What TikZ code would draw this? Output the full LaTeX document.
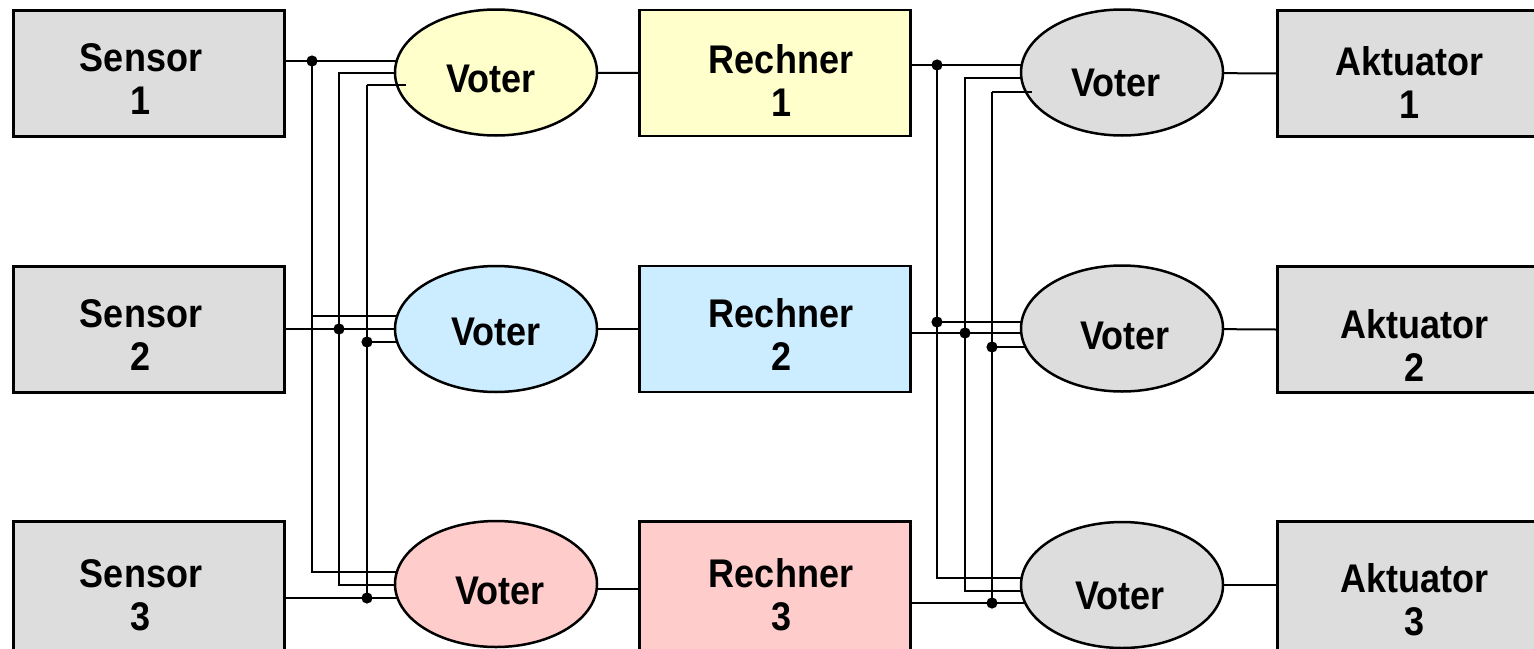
\documentclass[tikz,border=0pt]{standalone}
\usepackage{fontspec}
\setmainfont{Liberation Sans}[FakeStretch=0.9]
\usetikzlibrary{shapes.geometric,backgrounds}

\definecolor{unitgray}{HTML}{DDDDDD}
\definecolor{chanyellow}{HTML}{FFFFCC}
\definecolor{chanblue}{HTML}{CCECFF}
\definecolor{chanpink}{HTML}{FFCCCC}

\begin{document}
\begin{tikzpicture}[x=0.5pt,y=-0.5pt,
  unit/.style={draw=black, line width=1.35pt, minimum width=135.5pt, minimum height=63pt, inner sep=0pt},
  lowunit/.style={unit, minimum height=67.5pt},
  voter/.style={ellipse, draw=black, line width=1.25pt, minimum width=101pt, minimum height=63pt, inner sep=0pt},
  wire/.style={line width=1pt},
  dot/.style={circle, fill=black, inner sep=0pt, minimum size=5.6pt},
  lbl/.style={font=\bfseries\fontsize{20}{21.5}\selectfont, align=center, inner sep=0pt}]

\useasboundingbox (0,0) rectangle (1534,648);

% sensors
\node[unit, fill=unitgray] (s1) at (149,73.3) {};
\node[unit, fill=unitgray] (s2) at (149,329.3) {};
\node[lowunit, fill=unitgray] (s3) at (149,589) {};
% input voters
\node[voter, fill=chanyellow] (v1) at (496,72.5) {};
\node[voter, fill=chanblue]   (v2) at (496,329) {};
\node[voter, fill=chanpink]   (v3) at (496,584) {};
% computers
\node[unit, fill=chanyellow] (r1) at (775,73) {};
\node[unit, fill=chanblue]   (r2) at (775,329) {};
\node[lowunit, fill=chanpink] (r3) at (775,589) {};
% output voters
\node[voter, fill=unitgray] (w1) at (1122,72.5) {};
\node[voter, fill=unitgray] (w2) at (1122,328.5) {};
\node[voter, fill=unitgray] (w3) at (1122,585) {};
% actuators
\node[unit, fill=unitgray] (a1) at (1413,73.5) {};
\node[unit, fill=unitgray] (a2) at (1413,329.5) {};
\node[lowunit, fill=unitgray] (a3) at (1413,589) {};

% labels
\node[lbl] (s1t) at (141,79) {Sensor\\1};
\node[lbl] (s2t) at (141,335) {Sensor\\2};
\node[lbl] (s3t) at (141,595) {Sensor\\3};
\node[lbl] (v1t) at (491,79) {Voter};
\node[lbl] (v2t) at (496,332) {Voter};
\node[lbl] (v3t) at (500,591) {Voter};
\node[lbl] (r1t) at (781,81) {Rechner\\1};
\node[lbl] (r2t) at (781,335) {Rechner\\2};
\node[lbl] (r3t) at (781,595) {Rechner\\3};
\node[lbl] (w1t) at (1116,82.5) {Voter};
\node[lbl] (w2t) at (1125,336) {Voter};
\node[lbl] (w3t) at (1120,596) {Voter};
\node[lbl] (a1t) at (1409,82.5) {Aktuator\\1};
\node[lbl] (a2t) at (1414,346) {Aktuator\\2};
\node[lbl] (a3t) at (1414,600) {Aktuator\\3};

% bus taps, sensor side
\coordinate (ja1) at (312,61);
\coordinate (ja2) at (312,316);
\coordinate (ja3) at (312,572);
\coordinate (jb1) at (339,73);
\coordinate (jb2) at (339,329);
\coordinate (jb3) at (339,585);
\coordinate (jc1) at (367,85);
\coordinate (jc2) at (367,342);
\coordinate (jc3) at (367,598);
\coordinate (pc1) at (406,85);
% bus taps, actuator side
\coordinate (jd1) at (937,65);
\coordinate (jd2) at (937,322);
\coordinate (jd3) at (937,578);
\coordinate (je1) at (965,78);
\coordinate (je2) at (965,333);
\coordinate (je3) at (965,591);
\coordinate (jf1) at (992,92);
\coordinate (jf2) at (992,347);
\coordinate (jf3) at (992,603);
\coordinate (pf1) at (1032,92);
\coordinate (l3) at (620,589);
\coordinate (m3) at (1250,585);

\begin{pgfonlayer}{background}
  % sensor 1 fan-out
  \draw[wire] (s1.east |- ja1) -- (v1.center |- ja1);
  \draw[wire] (ja1) -- (ja3) -- (v3.center |- ja3);
  \draw[wire] (ja2) -- (v2.center |- ja2);
  % sensor 2 fan-out
  \draw[wire] (s2.east |- jb2) -- (v2.center |- jb2);
  \draw[wire] (v1.center |- jb1) -- (jb1) -- (jb3) -- (v3.center |- jb3);
  % sensor 3 fan-out
  \draw[wire] (s3.east |- jc3) -- (v3.center |- jc3);
  \draw[wire] (jc1) -- (jc3);
  \draw[wire] (jc2) -- (v2.center |- jc2);
  % voters to computers
  \draw[wire] (v1.center) -- (r1.west);
  \draw[wire] (v2.center) -- (r2.west);
  \draw[wire] (v3.center |- l3) -- (r3.west |- l3);
  % computer 1 fan-out
  \draw[wire] (r1.east |- jd1) -- (w1.center |- jd1);
  \draw[wire] (jd1) -- (jd3) -- (w3.center |- jd3);
  \draw[wire] (jd2) -- (w2.center |- jd2);
  % computer 2 fan-out
  \draw[wire] (r2.east |- je2) -- (w2.center |- je2);
  \draw[wire] (w1.center |- je1) -- (je1) -- (je3) -- (w3.center |- je3);
  % computer 3 fan-out
  \draw[wire] (r3.east |- jf3) -- (w3.center |- jf3);
  \draw[wire] (jf1) -- (jf3);
  \draw[wire] (jf2) -- (w2.center |- jf2);
  % voters to actuators
  \draw[wire] (w1.center) -- (a1.west);
  \draw[wire] (w2.center) -- (a2.west);
  \draw[wire] (w3.center) -- (a3.west |- m3);
\end{pgfonlayer}

% input stubs reaching into the top voters
\draw[wire] (jc1) -- (pc1);
\draw[wire] (jf1) -- (pf1);

% junction dots
\node[dot] (da1) at (ja1) {};
\node[dot] (db2) at (jb2) {};
\node[dot] (dc2) at (jc2) {};
\node[dot] (dc3) at (jc3) {};
\node[dot] (dd1) at (jd1) {};
\node[dot] (dd2) at (jd2) {};
\node[dot] (de2) at (je2) {};
\node[dot] (df2) at (jf2) {};
\node[dot] (df3) at (jf3) {};

\end{tikzpicture}
\end{document}
